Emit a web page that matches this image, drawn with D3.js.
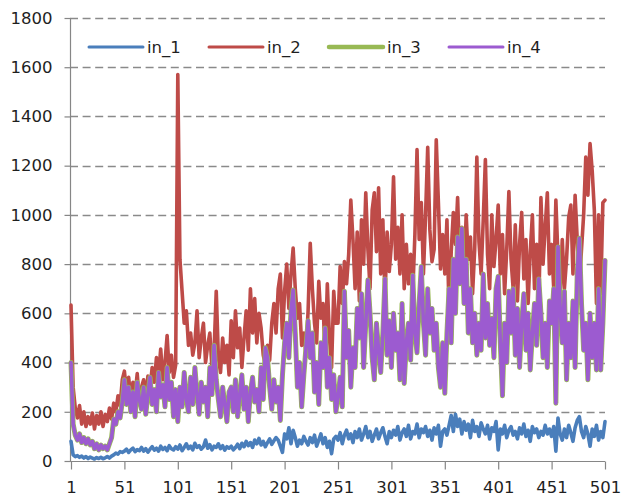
<!DOCTYPE html>
<html>
<head>
<meta charset="utf-8">
<script src="https://cdn.jsdelivr.net/npm/d3@7"></script>
<style>
  body { margin: 0; background: #fff; }
  text { font-family: 'DejaVu Sans', Verdana, sans-serif; fill: #1f1f1f; }
</style>
</head>
<body>
<script>
// values, every 2nd sample (x = 1, 3, 5 ... 501)
var seriesNames = ['in_1', 'in_2', 'in_3', 'in_4'];
var xTicks = [1, 51, 101, 151, 201, 251, 301, 351, 401, 451, 501];
var yTicks = [0, 200, 400, 600, 800, 1000, 1200, 1400, 1600, 1800];

var in_1 = [
  80, 25, 18, 22, 15, 20, 12, 18, 10, 16, 12, 8, 14, 10, 15, 9, 13, 18, 12, 20, 25, 32, 28, 38, 35,
  40, 48, 35, 45, 52, 38, 46, 42, 55, 40, 50, 36, 48, 58, 44, 52, 40, 60, 47, 55, 42, 62, 50, 45, 58,
  48, 65, 42, 55, 70, 50, 60, 45, 72, 55, 62, 48, 58, 85, 52, 66, 45, 60, 55, 70, 50, 62, 44, 58, 52,
  60, 45, 55, 68, 50, 72, 58, 80, 62, 75, 55, 85, 70, 92, 65, 80, 58, 75, 90, 68, 82, 95, 85, 60, 35,
  110, 90, 135, 70, 125, 95, 60, 85, 70, 100, 80, 65, 95, 75, 105, 60, 85, 110, 70, 95, 55, 80, 30, 90, 100,
  85, 115, 70, 105, 125, 90, 110, 75, 120, 95, 130, 85, 110, 140, 95, 120, 80, 105, 130, 90, 115, 135, 100, 70, 120,
  95, 125, 105, 140, 85, 115, 130, 100, 145, 90, 120, 110, 150, 95, 130, 115, 140, 100, 125, 85, 135, 110, 145, 60, 120,
  130, 105, 145, 185, 120, 190, 140, 170, 110, 160, 125, 150, 95, 165, 120, 140, 100, 155, 130, 110, 145, 90, 135, 120, 160,
  45, 130, 110, 145, 95, 125, 140, 105, 120, 90, 135, 110, 150, 100, 125, 80, 140, 115, 130, 95, 120, 105, 145, 110, 130,
  100, 140, 40, 175, 110, 85, 130, 95, 145, 115, 80, 135, 165, 180, 120, 95, 140, 110, 60, 130, 100, 145, 85, 120, 95,
  160
];

var in_2 = [
  634, 300, 215, 175, 225, 150, 200, 140, 180, 150, 195, 130, 185, 150, 200, 140, 190, 160, 215, 170, 235, 200, 265, 225, 330,
  365, 280, 340, 250, 320, 270, 355, 240, 300, 330, 260, 345, 295, 380, 320, 420, 350, 455, 330, 400, 510, 360, 430, 340, 390,
  1570, 820, 690, 560, 610, 470, 520, 430, 480, 610, 420, 500, 560, 400, 470, 520, 380, 450, 690, 420, 360, 500, 400, 470, 350,
  570, 420, 610, 460, 540, 380, 500, 610, 450, 700, 520, 660, 480, 600, 540, 430, 390, 470, 410, 560, 640, 520, 700, 760, 500,
  690, 800, 620, 760, 865, 700, 580, 640, 470, 520, 440, 610, 885, 700, 560, 480, 730, 580, 640, 420, 720, 500, 380, 690, 560,
  560, 790, 640, 810, 720, 840, 1060, 900, 700, 930, 650, 980, 800, 1090, 860, 700, 1020, 1090, 850, 1110, 760, 980, 660, 930, 770,
  880, 1155, 820, 950, 760, 1000, 700, 880, 720, 840, 680, 920, 1265, 900, 1050, 760, 1000, 1275, 940, 810, 860, 1305, 1050, 780, 920,
  760, 980, 600, 850, 1010, 880, 1070, 790, 950, 720, 1000, 820, 910, 680, 860, 1235, 890, 760, 980, 1225, 840, 700, 1000, 790, 900,
  1040, 760, 920, 680, 860, 1095, 820, 700, 960, 650, 880, 1010, 740, 900, 640, 850, 1000, 700, 880, 620, 1070, 800, 950, 1090, 760,
  880, 700, 1060, 820, 680, 900, 700, 820, 990, 1040, 760, 1080, 900, 720, 860, 1000, 1235, 1080, 1290, 1180, 1020, 640, 1000, 680, 1050,
  1060
];

// in_3 sits right under in_4 in the picture, only its edge shows
var in_3 = [
  400, 150, 105, 85, 110, 75, 95, 70, 90, 65, 80, 50, 70, 45, 65, 50, 60, 45, 70, 95, 170, 150, 200, 175, 240,
  330, 230, 300, 200, 280, 180, 320, 250, 210, 300, 190, 270, 340, 230, 290, 200, 360, 260, 310, 220, 380, 250, 320, 180, 290,
  160, 300, 220, 360, 250, 200, 340, 230, 380, 270, 190, 320, 240, 300, 180, 380, 270, 470, 330, 250, 180, 300, 230, 160, 280,
  300, 200, 330, 180, 270, 350, 210, 300, 160, 280, 340, 240, 290, 200, 380, 250, 460, 420, 300, 210, 330, 240, 300, 165, 350,
  480, 560, 420, 610, 695, 520, 300, 400, 220, 350, 460, 570, 420, 520, 280, 400, 230, 480, 380, 540, 300, 420, 250, 350, 200,
  260, 340, 220, 690, 420, 530, 300, 460, 380, 620, 500, 680, 380, 560, 735, 600, 420, 330, 560, 450, 360, 520, 740, 430, 570,
  380, 600, 450, 520, 330, 640, 315, 480, 560, 410, 755, 520, 440, 640, 790, 560, 430, 700, 520, 620, 450, 560, 380, 300, 480,
  275, 520, 700, 480, 820, 600, 910, 720, 945, 640, 820, 520, 700, 480, 600, 430, 560, 450, 760, 500, 640, 470, 580, 420, 700,
  750, 480, 265, 560, 400, 690, 520, 700, 430, 620, 380, 560, 680, 450, 600, 370, 520, 640, 470, 740, 600, 420, 560, 380, 650,
  560, 700, 235, 870, 620, 480, 690, 330, 560, 420, 650, 380, 760, 905, 640, 450, 560, 330, 600, 420, 560, 370, 700, 370, 560,
  815
];

var in_4 = [
  400, 150, 105, 85, 110, 75, 95, 70, 90, 65, 80, 50, 70, 45, 65, 50, 60, 45, 70, 95, 170, 150, 200, 175, 240,
  330, 230, 300, 200, 280, 180, 320, 250, 210, 300, 190, 270, 340, 230, 290, 200, 360, 260, 310, 220, 380, 250, 320, 180, 290,
  160, 300, 220, 360, 250, 200, 340, 230, 380, 270, 190, 320, 240, 300, 180, 380, 270, 470, 330, 250, 180, 300, 230, 160, 280,
  300, 200, 330, 180, 270, 350, 210, 300, 160, 280, 340, 240, 290, 200, 380, 250, 460, 420, 300, 210, 330, 240, 300, 165, 350,
  480, 560, 420, 610, 695, 520, 300, 400, 220, 350, 460, 570, 420, 520, 280, 400, 230, 480, 380, 540, 300, 420, 250, 350, 200,
  260, 340, 220, 690, 420, 530, 300, 460, 380, 620, 500, 680, 380, 560, 735, 600, 420, 330, 560, 450, 360, 520, 740, 430, 570,
  380, 600, 450, 520, 330, 640, 315, 480, 560, 410, 755, 520, 440, 640, 790, 560, 430, 700, 520, 620, 450, 560, 380, 300, 480,
  275, 520, 700, 480, 820, 600, 910, 720, 945, 640, 820, 520, 700, 480, 600, 430, 560, 450, 760, 500, 640, 470, 580, 420, 700,
  750, 480, 265, 560, 400, 690, 520, 700, 430, 620, 380, 560, 680, 450, 600, 370, 520, 640, 470, 740, 600, 420, 560, 380, 650,
  560, 700, 235, 870, 620, 480, 690, 330, 560, 420, 650, 380, 760, 905, 640, 450, 560, 330, 600, 420, 560, 370, 700, 370, 560,
  815
];

var colors = ['#4a7ebb', '#be4b48', '#98b954', '#9c5bd0'];
var lineWidths = [3.6, 3.6, 5, 3.6];
var legendWidths = [3, 3, 4.5, 3];

var W = 623, H = 502;
var margin = { top: 18, right: 18, bottom: 41, left: 70 };

var svg = d3.select('body').append('svg')
  .attr('width', W)
  .attr('height', H);

var xScale = d3.scaleLinear().domain([1, 501]).range([margin.left + 1, W - margin.right]);
var yScale = d3.scaleLinear().domain([0, 1800]).range([H - margin.bottom, margin.top]);

// dashed gridlines
svg.append('g')
  .selectAll('line')
  .data(yTicks.filter(function(d) { return d > 0; }))
  .enter().append('line')
  .attr('x1', margin.left)
  .attr('x2', W - margin.right)
  .attr('y1', function(d) { return Math.round(yScale(d)) + 0.5; })
  .attr('y2', function(d) { return Math.round(yScale(d)) + 0.5; })
  .attr('stroke', '#8a8a8a')
  .attr('stroke-width', 1.3)
  .attr('stroke-dasharray', '8,4.6');

// y axis
var yAxis = svg.append('g')
  .attr('transform', 'translate(' + (margin.left + 0.5) + ',0)')
  .call(d3.axisLeft(yScale).tickValues(yTicks).tickSize(6).tickPadding(12).tickFormat(d3.format('d')));

// x axis
var xAxis = svg.append('g')
  .attr('transform', 'translate(0,' + (H - margin.bottom + 0.5) + ')')
  .call(d3.axisBottom(xScale).tickValues(xTicks).tickSize(8).tickPadding(12).tickFormat(d3.format('d')));

[yAxis, xAxis].forEach(function(ax) {
  ax.select('.domain').attr('stroke', '#868686').attr('stroke-width', 1.2);
  ax.selectAll('.tick line').attr('stroke', '#868686').attr('stroke-width', 1.2);
  ax.selectAll('.tick text')
    .style('font-size', '16.5px')
    .style('font-family', "'DejaVu Sans', Verdana, sans-serif")
    .attr('fill', '#1f1f1f');
});
xAxis.select('.domain').attr('d', 'M' + margin.left + ',0H' + xScale(501));
yAxis.select('.domain').attr('d', 'M0,' + yScale(0) + 'V' + yScale(1800));

// the lines, one per series, in series order
var allSeries = [in_1, in_2, in_3, in_4];
var line = d3.line()
  .x(function(d, i) { return xScale(1 + i * 2); })
  .y(function(d) { return yScale(d); });

allSeries.forEach(function(vals, s) {
  svg.append('path')
    .datum(vals)
    .attr('fill', 'none')
    .attr('stroke', colors[s])
    .attr('stroke-width', lineWidths[s])
    .attr('stroke-linejoin', 'round')
    .attr('stroke-linecap', 'round')
    .attr('d', line);
});

// legend across the top
var legend = svg.append('g').attr('transform', 'translate(89,47)');
var item = legend.selectAll('g')
  .data(seriesNames)
  .enter().append('g')
  .attr('transform', function(d, i) { return 'translate(' + (i * 120) + ',0)'; });

item.append('line')
  .attr('x1', 0).attr('x2', 54)
  .attr('stroke', function(d, i) { return colors[i]; })
  .attr('stroke-width', function(d, i) { return legendWidths[i]; })
  .attr('stroke-linecap', 'round');

item.append('text')
  .attr('x', 58)
  .attr('dy', '0.35em')
  .style('font-size', '16.5px')
  .text(function(d) { return d; });
</script>
</body>
</html>
